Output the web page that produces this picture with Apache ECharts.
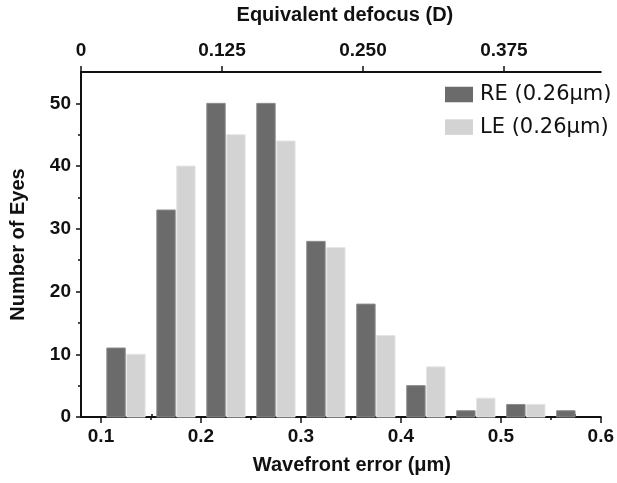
<!DOCTYPE html>
<html>
<head>
<meta charset="utf-8">
<script src="https://cdn.jsdelivr.net/npm/echarts@6/dist/echarts.min.js"></script>
<style>
html,body{margin:0;padding:0;background:#fff;}
#chart{width:617px;height:483px;}
</style>
</head>
<body>
<div id="chart"></div>
<script>
// ---- data ----
const binCenters = [0.125, 0.175, 0.225, 0.275, 0.325, 0.375, 0.425, 0.475, 0.525, 0.575];
const reCounts = [11, 33, 50, 50, 28, 18, 5, 1, 2, 1];
const leCounts = [10, 40, 45, 44, 27, 13, 8, 3, 2, 0];
const seriesNames = ['RE (0.26\u03bcm)', 'LE (0.26\u03bcm)'];
const xTicks = [0.1, 0.2, 0.3, 0.4, 0.5, 0.6];
const xMinorTicks = [0.15, 0.25, 0.35, 0.45, 0.55];
const topTicks = [0, 0.125, 0.25, 0.375];
const topMinorTicks = [0.0625, 0.1875, 0.3125, 0.4375];
const yTicks = [0, 10, 20, 30, 40, 50];
const yMinorTicks = [5, 15, 25, 35, 45];

const chart = echarts.init(document.getElementById('chart'), null, {renderer: 'canvas'});

const AX = '#111';
const FONT = 'Liberation Sans, Arial, sans-serif';
const barW = 0.0184, gapU = 0.00075;

function makeRender(side) {
  return function (params, api) {
    const c = api.value(0), v = api.value(1);
    if (!v) return null;
    const x0 = side < 0 ? c - gapU - barW : c + gapU;
    const p0 = api.coord([x0, v]);
    const p1 = api.coord([x0 + barW, 0]);
    return {
      type: 'rect',
      shape: {x: p0[0], y: p0[1], width: p1[0] - p0[0], height: p1[1] - p0[1]},
      style: api.style()
    };
  };
}

const lineStyle = {color: AX, width: 2};
const labelStyle = {color: AX, fontSize: 19, fontWeight: 'bold', fontFamily: FONT};
const nameStyle = {color: AX, fontSize: 20, fontWeight: 'bold', fontFamily: FONT};

const option = {
  animation: false,
  backgroundColor: '#fff',
  grid: {left: 81, right: 13.5, top: 69.6, bottom: 66, containLabel: false},
  legend: {
    orient: 'vertical', left: 440, top: 79,
    itemWidth: 28, itemHeight: 15.5, itemGap: 11.6,
    icon: 'rect',
    itemStyle: {borderWidth: 0},
    textStyle: {fontSize: 21, fontFamily: 'DejaVu Sans', color: '#111', lineHeight: 21, padding: [0, 0, 0, 2]},
    data: seriesNames
  },
  xAxis: [
    {
      type: 'value', position: 'bottom', min: 0.08, max: 0.6,
      name: 'Wavefront error (\u03bcm)', nameLocation: 'middle', nameGap: 38,
      nameTextStyle: Object.assign({padding: [0, 0, 0, 22]}, nameStyle),
      axisLine: {show: true, onZero: false, lineStyle: lineStyle},
      axisTick: {show: true, inside: false, length: 6, customValues: xTicks, lineStyle: {color: AX, width: 1.5}},
      axisLabel: {customValues: xTicks, margin: 10, formatter: v => v.toFixed(1), ...labelStyle},
      splitLine: {show: false}
    },
    {
      type: 'value', position: 'top', min: 0, max: 0.4609,
      name: 'Equivalent defocus (D)', nameLocation: 'middle', nameGap: 47,
      nameTextStyle: Object.assign({padding: [0, 0, 0, 8]}, nameStyle),
      axisLine: {show: true, onZero: false, lineStyle: lineStyle},
      axisTick: {show: true, inside: false, length: 6, customValues: topTicks, lineStyle: {color: AX, width: 1.5}},
      axisLabel: {customValues: topTicks, margin: 12, formatter: v => (v === 0 ? '0' : v.toFixed(3)), ...labelStyle},
      splitLine: {show: false}
    },
    {
      type: 'value', position: 'bottom', min: 0.08, max: 0.6,
      axisLine: {show: false},
      axisTick: {show: true, inside: false, length: 3, customValues: xMinorTicks, lineStyle: {color: AX, width: 1.5}},
      axisLabel: {show: false},
      splitLine: {show: false}
    },
    {
      type: 'value', position: 'top', min: 0, max: 0.4609,
      axisLine: {show: false},
      axisTick: {show: true, inside: false, length: 3, customValues: topMinorTicks, lineStyle: {color: AX, width: 1.5}},
      axisLabel: {show: false},
      splitLine: {show: false}
    }
  ],
  yAxis: [
    {
      type: 'value', position: 'left', min: 0, max: 55,
      name: 'Number of Eyes', nameLocation: 'middle', nameGap: 53, nameRotate: 90,
      nameTextStyle: nameStyle,
      axisLine: {show: true, onZero: false, lineStyle: lineStyle},
      axisTick: {show: true, inside: false, length: 5, customValues: yTicks, lineStyle: {color: AX, width: 1.5}},
      axisLabel: {customValues: yTicks, margin: 10, ...labelStyle},
      splitLine: {show: false}
    },
    {
      type: 'value', position: 'left', min: 0, max: 55,
      axisLine: {show: false},
      axisTick: {show: true, inside: false, length: 3, customValues: yMinorTicks, lineStyle: {color: AX, width: 1.5}},
      axisLabel: {show: false},
      splitLine: {show: false}
    }
  ],
  series: [
    {
      name: seriesNames[0], type: 'custom', xAxisIndex: 0, yAxisIndex: 0,
      renderItem: makeRender(-1),
      itemStyle: {color: '#6b6b6b', borderColor: '#8c8c8c', borderWidth: 1},
      data: binCenters.map((c, i) => [c, reCounts[i]])
    },
    {
      name: seriesNames[1], type: 'custom', xAxisIndex: 0, yAxisIndex: 0,
      renderItem: makeRender(1),
      itemStyle: {color: '#d3d3d3', borderColor: '#e4e4e4', borderWidth: 1},
      data: binCenters.map((c, i) => [c, leCounts[i]])
    }
  ]
};
chart.setOption(option);
</script>
</body>
</html>
